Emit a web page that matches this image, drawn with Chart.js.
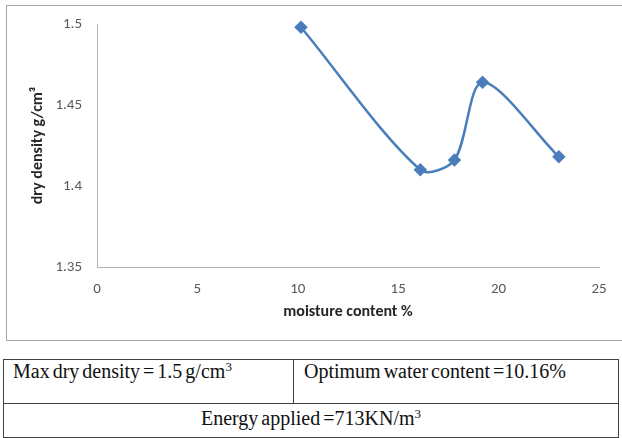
<!DOCTYPE html>
<html>
<head>
<meta charset="utf-8">
<script src="https://cdn.jsdelivr.net/npm/chart.js@4/dist/chart.umd.min.js"></script>
<style>
  html, body { margin: 0; padding: 0; background: #ffffff; }
  body { width: 622px; height: 438px; position: relative; overflow: hidden; }
  #frame { position: absolute; left: 6px; top: 5px; width: 630px; height: 336px; border: 1px solid #a6a6a6; box-sizing: border-box; }
  #wrap { position: absolute; left: 0; top: 0; width: 622px; height: 345px; }
  table { position: absolute; left: 3px; top: 359px; width: 616px; border-collapse: collapse; table-layout: fixed;
          font-family: "Liberation Serif", "Times New Roman", serif; font-size: 20px; color: #111; word-spacing: -2px; }
  td { border: 1px solid #404040; padding: 0; vertical-align: top; white-space: nowrap; }
  td.c1 { height: 43px; padding-left: 9px; line-height: 22px; }
  td.c2 { height: 43px; padding-left: 10px; line-height: 22px; }
  td.r2 { height: 33px; text-align: center; line-height: 28px; }
  sup { font-size: 13px; vertical-align: 7px; line-height: 0; }
</style>
</head>
<body>
<div id="frame"></div>
<div id="wrap"><canvas id="c" width="622" height="345"></canvas></div>
<table>
  <colgroup><col style="width:290px"><col></colgroup>
  <tr><td class="c1">Max dry density = 1.5 g/cm<sup>3</sup></td><td class="c2">Optimum water content =10.16%</td></tr>
  <tr><td class="r2" colspan="2">Energy applied =713KN/m<sup>3</sup></td></tr>
</table>
<script>
const moisture = [10.16, 16.1, 17.8, 19.2, 23.0];
const dryDensity = [1.498, 1.41, 1.416, 1.464, 1.418];
const xTicks = [0, 5, 10, 15, 20, 25];
const yTicks = [1.35, 1.4, 1.45, 1.5];
const xTitle = 'moisture content %';
const yTitle = 'dry density g/cm\u00B3';

const points = moisture.map((m, i) => ({ x: m, y: dryDensity[i] }));
const fontFam = 'Carlito, "Open Sans", "Liberation Sans", sans-serif';

new Chart(document.getElementById('c'), {
  type: 'scatter',
  data: {
    datasets: [{
      data: points,
      showLine: true,
      tension: 0.3,
      borderColor: '#4a7ebb',
      backgroundColor: '#4a7ebb',
      borderWidth: 2.5,
      pointStyle: 'rectRot',
      pointRadius: 5,
      pointHoverRadius: 5,
      clip: false
    }]
  },
  options: {
    responsive: false,
    animation: false,
    events: [],
    layout: { padding: { left: 6, right: 23, top: 23, bottom: 0 } },
    plugins: { legend: { display: false }, tooltip: { enabled: false } },
    scales: {
      x: {
        type: 'linear',
        min: xTicks[0], max: xTicks[xTicks.length - 1],
        afterFit: s => { s.height = 78; },
        afterBuildTicks: s => { s.ticks = xTicks.map(v => ({ value: v })); },
        grid: { display: false, drawTicks: false },
        border: { display: true, color: '#b3b3b3', width: 1 },
        ticks: { padding: 13, color: '#595959', font: { family: fontFam, size: 15 } },
        title: { display: true, text: xTitle, color: '#262626', padding: { top: 0, bottom: 23 },
                 font: { family: fontFam, size: 16, weight: 'bold' } }
      },
      y: {
        type: 'linear',
        min: yTicks[0], max: yTicks[yTicks.length - 1],
        afterFit: s => { s.width = 91; },
        afterBuildTicks: s => { s.ticks = yTicks.map(v => ({ value: v })); },
        grid: { display: false, drawTicks: false },
        border: { display: true, color: '#b3b3b3', width: 1 },
        ticks: { padding: 15, color: '#595959', font: { family: fontFam, size: 15 },
                 callback: v => String(parseFloat(Number(v).toFixed(2))) },
        title: { display: true, text: yTitle, color: '#262626', padding: { top: 22, bottom: 0 },
                 font: { family: fontFam, size: 16, weight: 'bold' } }
      }
    }
  }
});
</script>
</body>
</html>
